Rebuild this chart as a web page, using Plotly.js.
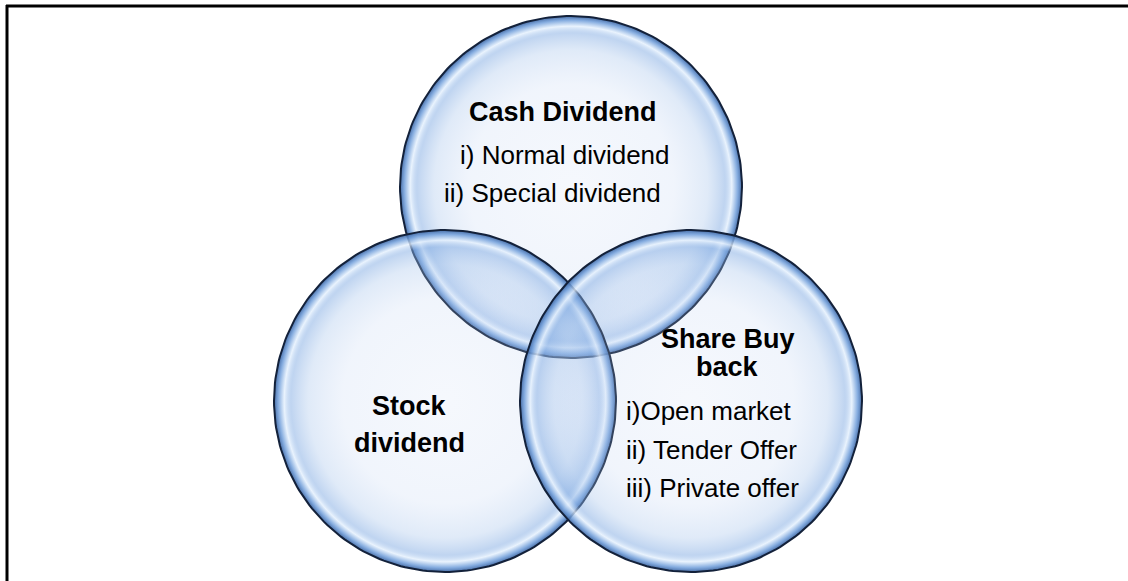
<!DOCTYPE html>
<html>
<head>
<meta charset="utf-8">
<script src="https://cdn.plot.ly/plotly-3.0.1.min.js"></script>
<style>html,body{margin:0;padding:0;background:#fff;}#chart{width:1128px;height:581px;}</style>
</head>
<body>
<div id="chart"></div>
<script>
// ---- data ----
const setNames = ['Cash Dividend', 'Stock dividend', 'Share Buy back'];
const setTitleLines = [['Cash Dividend'], ['Stock', 'dividend'], ['Share Buy', 'back']];
const cashItems = ['i) Normal dividend', 'ii) Special dividend'];
const stockItems = [];
const buybackItems = ['i)Open market', 'ii) Tender Offer', 'iii) Private offer'];
const setItems = [cashItems, stockItems, buybackItems];

// ---- layout geometry (pixel-like axis units) ----
const circleCX = [571, 445, 691];
const circleCY = [187, 401, 401];
const circleR = 171;

const titlePos = [
  [[563, 112]],
  [[409, 406], [409, 443]],
  [[728, 339], [727, 367]]
];
const itemPos = [
  [[458, 155], [442, 193]],
  [],
  [[624, 411], [624, 450], [624, 488]]
];

const fontFam = '"Liberation Sans", Arial, sans-serif';
const N = 240;
const traces = [];
for (let k = 0; k < setNames.length; k++) {
  const xs = [], ys = [];
  for (let i = 0; i <= N; i++) {
    const t = 2 * Math.PI * i / N;
    xs.push(circleCX[k] + circleR * Math.cos(t));
    ys.push(circleCY[k] + circleR * Math.sin(t));
  }
  traces.push({
    type: 'scatter', mode: 'lines', x: xs, y: ys, name: setNames[k],
    fill: 'toself',
    fillgradient: {
      type: 'radial',
      colorscale: [
        [0, 'rgba(195,212,242,0.16)'],
        [0.6, 'rgba(182,204,240,0.2)'],
        [0.8, 'rgba(160,192,234,0.33)'],
        [0.9, 'rgba(128,170,226,0.5)'],
        [0.94, 'rgba(228,240,253,0.8)'],
        [0.975, 'rgba(112,158,218,0.85)'],
        [1, 'rgba(60,100,160,0.95)']
      ]
    },
    line: {color: '#13213a', width: 2},
    hoverinfo: 'skip', showlegend: false
  });
}

const annotations = [];
for (let k = 0; k < setNames.length; k++) {
  setTitleLines[k].forEach((txt, j) => {
    annotations.push({
      x: titlePos[k][j][0], y: titlePos[k][j][1], xref: 'x', yref: 'y',
      text: '<b>' + txt + '</b>', showarrow: false,
      xanchor: 'center', yanchor: 'middle',
      font: {family: fontFam, size: 27, color: '#000'}
    });
  });
  setItems[k].forEach((txt, j) => {
    annotations.push({
      x: itemPos[k][j][0], y: itemPos[k][j][1], xref: 'x', yref: 'y',
      text: txt, showarrow: false,
      xanchor: 'left', yanchor: 'middle',
      font: {family: fontFam, size: 26, color: '#000'}
    });
  });
}

const shapes = [
  {type: 'line', xref: 'x', yref: 'y', x0: 6, y0: 6, x1: 1128, y1: 6, line: {color: '#000', width: 3}},
  {type: 'line', xref: 'x', yref: 'y', x0: 7, y0: 5, x1: 7, y1: 581, line: {color: '#000', width: 3}}
];

const layout = {
  width: 1128, height: 581,
  margin: {l: 0, r: 0, t: 0, b: 0, pad: 0},
  paper_bgcolor: '#fff', plot_bgcolor: '#fff',
  xaxis: {range: [0, 1128], visible: false, fixedrange: true},
  yaxis: {range: [581, 0], visible: false, fixedrange: true},
  showlegend: false,
  annotations: annotations,
  shapes: shapes
};

Plotly.newPlot('chart', traces, layout, {displayModeBar: false, staticPlot: true});
</script>
</body>
</html>
